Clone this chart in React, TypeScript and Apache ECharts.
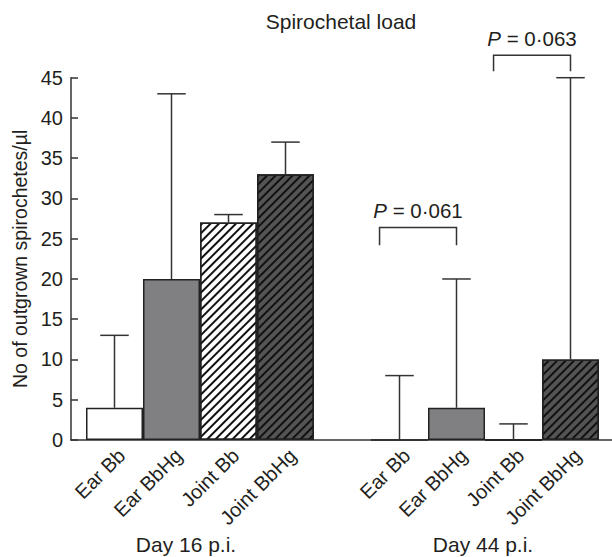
import React, { useEffect, useRef } from 'react';
import * as echarts from 'echarts';

// ---- data ----
const categories = ['Ear Bb', 'Ear BbHg', 'Joint Bb', 'Joint BbHg', '', 'Ear Bb', 'Ear BbHg', 'Joint Bb', 'Joint BbHg'];
const meanValues: (number | null)[] = [4, 20, 27, 33, null, 0, 4, 0, 10];
const upperErrors: (number | null)[] = [13, 43, 28, 37, null, 8, 20, 2, 45];
const groupLabels = ['Day 16 p.i.', 'Day 44 p.i.'];
const pLabels = ['0·061', '0·063'];
const bracketFrom = [5, 7];
const bracketTo = [6, 8];
const bracketTop = [26.4, 47.8];
const bracketLeg = [24.2, 45.8];
const yMin = 0;
const yMax = 45;
const yStep = 5;

// ---- styles ----
const FONT = "'Liberation Sans', Arial, Helvetica, sans-serif";
const INK = '#231f20';
const hatch = {
  symbol: 'rect',
  symbolSize: 1,
  dashArrayX: [1, 0],
  dashArrayY: [2, 4],
  rotation: -Math.PI / 4,
  color: '#111111',
};
const styleByName: Record<string, any> = {
  'Ear Bb': { color: '#ffffff' },
  'Ear BbHg': { color: '#808083' },
  'Joint Bb': { color: '#ffffff', decal: hatch },
  'Joint BbHg': { color: '#545454', decal: hatch },
};

export default function App() {
  const ref = useRef<HTMLDivElement>(null);
  useEffect(() => {
    if (!ref.current) return;
    const chart = echarts.init(ref.current, undefined, { renderer: 'svg' });
    const gridTop = 77.7;
    const gridBottom = 117;
    const option: any = {
      animation: false,
      backgroundColor: '#ffffff',
      textStyle: { fontFamily: FONT, color: INK },
      grid: [
        { left: 71, right: 0, top: gridTop, bottom: gridBottom },
        { left: 86, width: 513, top: gridTop, bottom: gridBottom },
      ],
      xAxis: [
        {
          gridIndex: 0,
          type: 'value',
          min: 0,
          max: 1,
          axisLine: { show: true, lineStyle: { color: '#333', width: 1.5 } },
          axisTick: { show: false },
          axisLabel: { show: false },
          splitLine: { show: false },
        },
        {
          gridIndex: 1,
          type: 'category',
          data: categories,
          axisLine: { show: false },
          axisTick: { show: false },
          axisLabel: {
            interval: 0,
            rotate: 45,
            margin: 5,
            verticalAlign: 'top',
            fontSize: 20,
            fontFamily: FONT,
            color: INK,
          },
        },
      ],
      yAxis: [
        {
          gridIndex: 0,
          type: 'value',
          min: yMin,
          max: yMax,
          interval: yStep,
          name: 'No of outgrown spirochetes/µl',
          nameLocation: 'middle',
          nameGap: 38,
          nameTextStyle: { fontSize: 19.5, fontFamily: FONT, color: INK },
          axisLine: { show: true, lineStyle: { color: '#333', width: 1.5 } },
          axisTick: { show: true, inside: true, length: 7, lineStyle: { color: '#333', width: 1.5 } },
          axisLabel: { fontSize: 20, margin: 8, fontFamily: FONT, color: INK },
          splitLine: { show: false },
        },
        {
          gridIndex: 1,
          type: 'value',
          min: yMin,
          max: yMax,
          show: false,
        },
      ],
      series: [
        {
          type: 'bar',
          xAxisIndex: 1,
          yAxisIndex: 1,
          barCategoryGap: '0%',
          itemStyle: { borderColor: '#222', borderWidth: 1.5 },
          data: meanValues.map((v, i) =>
            v == null
              ? '-'
              : { value: v, itemStyle: { ...styleByName[categories[i]], borderColor: '#222', borderWidth: 1.5 } }
          ),
        },
        {
          type: 'custom',
          xAxisIndex: 1,
          yAxisIndex: 1,
          z: 3,
          data: upperErrors
            .map((u, i) => (u == null ? null : [i, meanValues[i], u]))
            .filter((d) => d != null),
          renderItem: (params: any, api: any) => {
            const x = api.value(0);
            const lo = api.coord([x, api.value(1)]);
            const hi = api.coord([x, api.value(2)]);
            const w = api.size([1, 0])[0] * 0.5;
            const st = { stroke: '#333', lineWidth: 1.5 };
            return {
              type: 'group',
              children: [
                { type: 'line', shape: { x1: lo[0], y1: lo[1], x2: hi[0], y2: hi[1] }, style: st },
                { type: 'line', shape: { x1: hi[0] - w / 2, y1: hi[1], x2: hi[0] + w / 2, y2: hi[1] }, style: st },
              ],
            };
          },
        },
        {
          type: 'custom',
          xAxisIndex: 1,
          yAxisIndex: 1,
          z: 4,
          clip: false,
          data: bracketFrom.map((f, k) => [f, bracketTo[k], bracketTop[k], bracketLeg[k], k]),
          renderItem: (params: any, api: any) => {
            const band = api.size([1, 0])[0];
            const l = api.coord([api.value(0), api.value(2)]);
            const r = api.coord([api.value(1), api.value(2)]);
            const legY = api.coord([api.value(1), api.value(3)])[1];
            const lx = l[0] - band * 0.35;
            const rx = r[0];
            const ty = l[1];
            const k = api.value(4);
            return {
              type: 'group',
              children: [
                {
                  type: 'polyline',
                  shape: { points: [[lx, legY], [lx, ty], [rx, ty], [rx, legY]] },
                  style: { stroke: '#333', lineWidth: 1.5, fill: null },
                },
                {
                  type: 'text',
                  x: (lx + rx) / 2,
                  y: ty - 6,
                  style: {
                    text: '{i|P} = ' + pLabels[k],
                    align: 'center',
                    verticalAlign: 'bottom',
                    fontSize: 20.5,
                    fontFamily: FONT,
                    fill: INK,
                    rich: { i: { fontStyle: 'italic', fontSize: 20.5, fontFamily: FONT, color: INK } },
                  },
                },
              ],
            };
          },
        },
      ],
      graphic: [
        {
          type: 'text',
          x: 341,
          y: 21,
          style: { text: 'Spirochetal load', align: 'center', verticalAlign: 'middle', fontSize: 21, fontFamily: FONT, fill: INK },
        },
        {
          type: 'text',
          x: 186,
          y: 544,
          style: { text: groupLabels[0], align: 'center', verticalAlign: 'middle', fontSize: 21, fontFamily: FONT, fill: INK },
        },
        {
          type: 'text',
          x: 483,
          y: 544,
          style: { text: groupLabels[1], align: 'center', verticalAlign: 'middle', fontSize: 21, fontFamily: FONT, fill: INK },
        },
      ],
    };
    chart.setOption(option);
    return () => chart.dispose();
  }, []);
  return <div ref={ref} style={{ width: 612, height: 557, position: 'absolute', left: 0, top: 0, background: '#fff' }} />;
}
